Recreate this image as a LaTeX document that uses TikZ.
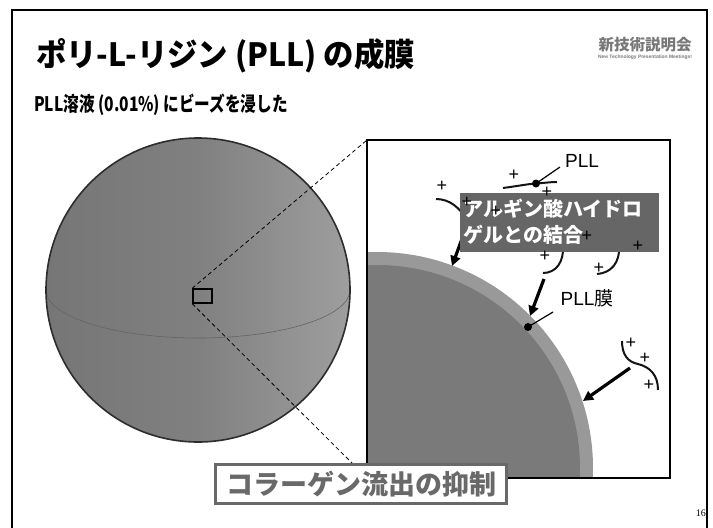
\documentclass[tikz,border=0pt]{standalone}
\usepackage{fontspec}
\setmainfont{Noto Sans CJK JP}
\newfontfamily\latinsans{Liberation Sans}
\newfontfamily\pageserif{Liberation Serif}
\usetikzlibrary{arrows.meta}

\definecolor{sphereleft}{RGB}{118,118,118}
\definecolor{spheremid}{RGB}{128,128,128}
\definecolor{sphereright}{RGB}{158,158,158}
\definecolor{sphereedge}{RGB}{45,45,45}
\definecolor{equator}{RGB}{100,100,100}
\definecolor{coregray}{RGB}{122,122,122}
\definecolor{filmgray}{RGB}{153,153,153}
\definecolor{boxgray}{RGB}{102,102,102}
\definecolor{labelgray}{RGB}{105,105,105}
\definecolor{logogray}{RGB}{120,120,120}
\definecolor{ink}{RGB}{20,20,20}

\tikzset{
  frameline/.style={line width=2pt, draw=black},
  zoomline/.style={dashed, dash pattern=on 4pt off 3pt, line width=0.8pt},
  chain/.style={line width=2pt, draw=ink},
  bigarrow/.style={line width=3.2pt, draw=black, -{Triangle[length=10pt,width=10pt]}},
  leader/.style={line width=1.2pt, draw=black},
  charge/.style={font=\latinsans\fontsize{18}{18}\selectfont, text=black, inner sep=0pt},
  dot/.style={circle, fill=black, inner sep=0pt, minimum size=8pt},
}

\begin{document}
\begin{tikzpicture}[x=1pt,y=-1pt]
\useasboundingbox (0,0) rectangle (713,528);
\fill[white] (0,0) rectangle (713,528);

% slide frame (open at the bottom)
\draw[frameline] (12,528) -- (12,10) -- (707,10) -- (707,528);

% headline and subtitle
\node[anchor=base west, inner sep=0pt, font=\bfseries\fontsize{32}{34}\selectfont] (title) at (36,66) {\scalebox{0.95}[1]{ポリ-L-リジン (PLL) の成膜}};
\node[anchor=base west, inner sep=0pt, font=\bfseries\fontsize{20}{22}\selectfont] (subtitle) at (34,111) {\scalebox{0.78}[1]{PLL溶液 (0.01\%) にビーズを浸した}};

% logo
\node[anchor=south, inner sep=0pt, text=logogray, font=\bfseries\fontsize{15.5}{16}\selectfont] (logo) at (645,52) {新技術説明会};
\node[anchor=north, inner sep=0pt, text=logogray, font=\latinsans\bfseries] (logosub) at (645,54.5) {\resizebox{94pt}{!}{New Technology Presentation Meetings!}};

% bead
\shade[left color=sphereleft, right color=sphereright, middle color=spheremid] (198,290) circle[radius=152pt];
\draw[equator, line width=0.6pt] (46,290) .. controls (46,316.5) and (114,338) .. (198,338) .. controls (282,338) and (350,316.5) .. (350,290);
\draw[sphereedge, line width=1.6pt] (198,290) circle[radius=152pt];
\node[draw, line width=1.5pt, minimum width=19pt, minimum height=14pt, inner sep=0pt] (zoombox) at (202.5,296) {};

% magnified patch of the bead surface
\coordinate (insetNW) at (367,140);
\coordinate (insetSE) at (670,478);
\coordinate (insetSW) at (367,478);
\begin{scope}
  \clip (insetNW) rectangle (insetSE);
  \fill[filmgray] (377,468) circle[radius=216pt];
  \fill[coregray] (377,468) circle[radius=203pt];
\end{scope}

% zoom guides
\draw[zoomline] (zoombox.north west) -- (insetNW);
\draw[zoomline] (zoombox.south west) -- (insetSW);

% PLL chains approaching the film
\coordinate (lchainA) at (436,199);
\coordinate (lchainB) at (468,222);
\draw[chain] (lchainA) .. controls (449,199) and (460,207) .. (lchainB);
\coordinate (larrowS) at (466,228);
\coordinate (larrowE) at (452,266);
\draw[bigarrow] (larrowS) -- (larrowE);

\coordinate (pllA) at (503,188);
\coordinate (pllB) at (557,182);
\draw[chain] (pllA) .. controls (518,186) and (528,184) .. (536,183.5) .. controls (544,183) and (550,182) .. (pllB);
\node[dot] (plldot) at (536,183.5) {};
\node[inner sep=0pt, font=\latinsans\fontsize{19}{19}\selectfont] (plllabel) at (582,161) {PLL};
\coordinate (pllleaderE) at (560,167);
\draw[leader] (plldot.center) -- (pllleaderE);

\coordinate (mchainA) at (563,246);
\coordinate (mchainB) at (543,273);
\draw[chain] (mchainA) .. controls (564,262) and (556,273) .. (mchainB);
\coordinate (rchainA) at (619,246);
\coordinate (rchainB) at (597,274);
\draw[chain] (rchainA) .. controls (620,263) and (611,273) .. (rchainB);

\coordinate (marrowS) at (544,279);
\coordinate (marrowE) at (530,316);
\draw[bigarrow] (marrowS) -- (marrowE);

\node[inner sep=0pt, font=\latinsans\fontsize{19}{19}\selectfont] (filmlabel) at (587,298) {PLL{\rmfamily 膜}};
\node[dot] (filmdot) at (528,327) {};
\coordinate (filmleaderE) at (553,312);
\draw[leader] (filmdot.center) -- (filmleaderE);

\coordinate (wchainA) at (622,341);
\coordinate (wchainB) at (658,390);
\draw[chain] (wchainA) .. controls (622,355) and (628,362) .. (638,364) .. controls (650,367) and (658,375) .. (wchainB);
\coordinate (warrowS) at (630,368);
\coordinate (warrowE) at (583,401);
\draw[bigarrow] (warrowS) -- (warrowE);

% alginate binding callout
\node[fill=boxgray, text=white, anchor=north west, minimum width=199pt, minimum height=59pt, inner sep=0pt] (alginate) at (460,193) {};
\node[anchor=north west, text=white, align=left, inner sep=0pt, font=\bfseries\fontsize{20}{26}\selectfont] (alginatetext) at (463,199) {アルギン酸ハイドロ\\ゲルとの結合};

% positive charges
\node[charge] (c1) at (442,186) {+};
\node[charge] (c2) at (467,202) {+};
\node[charge] (c3) at (496,211) {+};
\node[charge] (c4) at (514,175) {+};
\node[charge] (c5) at (547,192) {+};
\node[charge] (c6) at (587,236) {+};
\node[charge] (c7) at (638,246) {+};
\node[charge] (c8) at (545,256) {+};
\node[charge] (c9) at (599,268) {+};
\node[charge] (c10) at (631,343) {+};
\node[charge] (c11) at (645,358) {+};
\node[charge] (c12) at (649,385) {+};

% magnified patch frame
\draw[frameline] (insetNW) rectangle (insetSE);

% conclusion label
\node[draw=labelgray, line width=3pt, fill=white, text=labelgray, anchor=north west, minimum width=291pt, minimum height=39pt, inner sep=0pt, font=\bfseries\fontsize{27}{27}\selectfont] (result) at (214,463) {コラーゲン流出の抑制};

% page number
\node[anchor=base east, inner sep=0pt, font=\pageserif\fontsize{10}{10}\selectfont] (pageno) at (706,516) {16};
\end{tikzpicture}
\end{document}
